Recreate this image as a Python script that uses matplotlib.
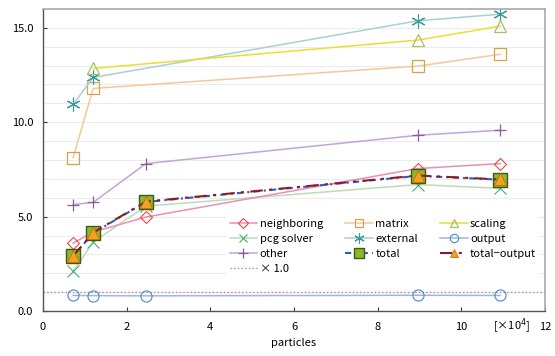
import matplotlib
matplotlib.use('Agg')
import matplotlib.pyplot as plt

plt.rcParams['font.family'] = ['Noto Sans CJK JP', 'DejaVu Sans']

# data (particles in units of 1e4)
particles = [0.72, 1.2, 2.46, 8.96, 10.93]
neighboring = [3.6, 4.19, 4.98, 7.55, 7.81]
matrix_x = [0.72, 1.2, 8.96, 10.93]
matrix_y = [8.13, 11.79, 12.97, 13.6]
scaling_x = [1.2, 8.96, 10.93]
scaling_y = [12.85, 14.35, 15.09]
pcg_solver = [2.1, 3.66, 5.56, 6.7, 6.5]
external_x = [0.72, 1.2, 8.96, 10.93]
external_y = [10.94, 12.37, 15.37, 15.72]
output = [0.83, 0.82, 0.81, 0.84, 0.83]
other = [5.64, 5.76, 7.81, 9.31, 9.58]
total = [2.9, 4.14, 5.78, 7.16, 6.96]
total_output = [2.92, 4.16, 5.8, 7.18, 6.97]
ref_level = 1.0

fig, ax = plt.subplots(figsize=(5.55, 3.56), dpi=100)
fig.subplots_adjust(left=0.0775, right=0.982, top=0.975, bottom=0.126)

ax.set_xlim(0, 12)
ax.set_ylim(0, 16)
ax.set_yticks([0, 5, 10, 15])
ax.set_yticklabels(['0.0', '5.0', '10.0', '15.0'], fontsize=8)
ax.set_yticks(range(0, 17), minor=True)
ax.set_xticks([0, 2, 4, 6, 8, 10, 12])
ax.set_xticklabels(['0', '2', '4', '6', '8', '10', '12'], fontsize=8)
ax.grid(True, axis='y', which='both', color='#ececec', linewidth=0.8)
ax.set_axisbelow(True)
ax.tick_params(direction='in', length=3, width=0.8, color='#333333')
ax.tick_params(axis='x', pad=8)
ax.tick_params(axis='y', pad=7)
ax.tick_params(which='minor', length=0)
for s in ['left', 'bottom']:
    ax.spines[s].set_color('#555555')
    ax.spines[s].set_linewidth(1.0)
for s in ['top', 'right']:
    ax.spines[s].set_color('#aaaaaa')
    ax.spines[s].set_linewidth(1.2)

ax.set_xlabel('particles', fontsize=8, labelpad=4)
ax.text(11.2, -0.78, '[×10$^4$]', fontsize=8, ha='center', va='center')

ms = 7
lw = 1.1
h_ref = ax.axhline(ref_level, color='#c88080', linestyle=':', linewidth=1.0, label='× 1.0')
h_out, = ax.plot(particles, output, color='#9ab8e0', linewidth=lw, marker='o',
                 markersize=ms + 1, markerfacecolor='none', markeredgecolor='#4a88c8',
                 markeredgewidth=0.8, label='output')
h_oth, = ax.plot(particles, other, color='#c4a4d4', linewidth=lw, marker='+',
                 markersize=ms + 2, markeredgecolor='#8a5a9a', markeredgewidth=0.9, label='other')
h_pcg, = ax.plot(particles, pcg_solver, color='#bcdcb4', linewidth=lw, marker='x',
                 markersize=ms + 1, markeredgecolor='#4aa878', markeredgewidth=0.8, label='pcg solver')
h_nei, = ax.plot(particles, neighboring, color='#e890b4', linewidth=lw, marker='D',
                 markersize=ms - 0.5, markerfacecolor='none', markeredgecolor='#e84848',
                 markeredgewidth=0.8, label='neighboring')
h_mat, = ax.plot(matrix_x, matrix_y, color='#f5c89c', linewidth=lw, marker='s',
                 markersize=ms + 1, markerfacecolor='none', markeredgecolor='#d8a048',
                 markeredgewidth=0.9, label='matrix')
h_ext, = ax.plot(external_x, external_y, color='#a8d0d4', linewidth=lw, marker=(6, 2, 0),
                 markersize=ms + 3, markeredgecolor='#3a9a9a', markeredgewidth=0.8, label='external')
h_sca, = ax.plot(scaling_x, scaling_y, color='#e8e030', linewidth=lw, marker='^',
                 markersize=ms + 1.5, markerfacecolor='none', markeredgecolor='#a8c060',
                 markeredgewidth=0.9, label='scaling')
h_tot, = ax.plot(particles, total, color='#2e5cc0', linewidth=1.5, linestyle=(0, (3, 2, 1, 2)),
                 marker='s', markersize=ms + 3, markerfacecolor='#8cb830',
                 markeredgecolor='#405a10', markeredgewidth=1.0, label='total')
h_to, = ax.plot(particles, total_output, color='#8c1c24', linewidth=1.5,
                linestyle=(0, (6, 3, 1.5, 3)), marker='^', markersize=ms + 1.5,
                markerfacecolor='#f5a020', markeredgecolor='#c07010', markeredgewidth=0.6,
                label='total−output')

handles = [h_nei, h_pcg, h_oth, h_ref, h_mat, h_ext, h_tot, h_sca, h_out, h_to]
leg = ax.legend(handles=handles, ncol=3, loc='lower right', bbox_to_anchor=(1.0, 0.095),
                frameon=True, framealpha=1.0, edgecolor='none', facecolor='white',
                fontsize=8, handlelength=2.5, handletextpad=0.2, columnspacing=2.0,
                labelspacing=0.45, borderpad=0.3, markerscale=0.75)

fig.savefig('out.png', dpi=100)
